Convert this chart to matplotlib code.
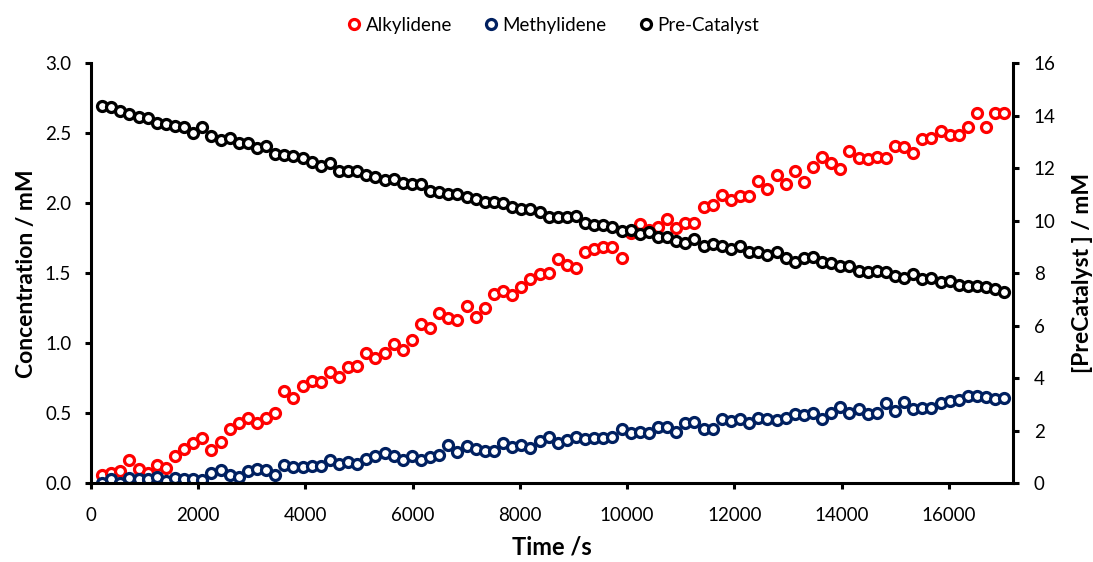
import matplotlib
matplotlib.use('Agg')
from matplotlib import pyplot as plt

plt.rcParams['font.family'] = ['Lato', 'DejaVu Sans']

# Sampling times (s)
time_s = [211, 381, 551, 721, 891, 1061, 1230, 1400, 1570, 1740,
          1910, 2080, 2250, 2420, 2590, 2760, 2929, 3099, 3269, 3439,
          3609, 3779, 3949, 4119, 4289, 4459, 4628, 4798, 4968, 5138,
          5308, 5478, 5648, 5818, 5988, 6158, 6327, 6497, 6667, 6837,
          7007, 7177, 7347, 7517, 7687, 7857, 8026, 8196, 8366, 8536,
          8706, 8876, 9046, 9216, 9386, 9556, 9725, 9895, 10065, 10235,
          10405, 10575, 10745, 10915, 11085, 11255, 11424, 11594, 11764, 11934,
          12104, 12274, 12444, 12614, 12784, 12954, 13123, 13293, 13463, 13633,
          13803, 13973, 14143, 14313, 14483, 14653, 14822, 14992, 15162, 15332,
          15502, 15672, 15842, 16012, 16182, 16352, 16521, 16691, 16861, 17031]

# Concentrations (mM), left axis
alkylidene = [0.059, 0.071, 0.088, 0.167, 0.100, 0.071, 0.131, 0.112, 0.197, 0.245,
              0.286, 0.321, 0.238, 0.293, 0.388, 0.433, 0.469, 0.433, 0.464, 0.500,
              0.659, 0.607, 0.695, 0.731, 0.726, 0.797, 0.757, 0.833, 0.838, 0.929,
              0.897, 0.929, 0.993, 0.952, 1.024, 1.136, 1.107, 1.214, 1.183, 1.167,
              1.269, 1.190, 1.254, 1.350, 1.374, 1.345, 1.400, 1.459, 1.493, 1.505,
              1.600, 1.560, 1.540, 1.650, 1.670, 1.686, 1.686, 1.610, 1.786, 1.850,
              1.810, 1.830, 1.886, 1.826, 1.857, 1.857, 1.970, 1.990, 2.059, 2.024,
              2.052, 2.052, 2.161, 2.100, 2.202, 2.138, 2.231, 2.154, 2.257, 2.333,
              2.290, 2.245, 2.376, 2.321, 2.317, 2.333, 2.321, 2.411, 2.400, 2.361,
              2.459, 2.464, 2.519, 2.488, 2.488, 2.543, 2.643, 2.547, 2.643, 2.648]

methylidene = [0.000, 0.029, 0.000, 0.040, 0.031, 0.031, 0.043, 0.019, 0.040, 0.031,
               0.031, 0.024, 0.071, 0.095, 0.059, 0.043, 0.088, 0.100, 0.095, 0.059,
               0.131, 0.114, 0.119, 0.124, 0.124, 0.167, 0.136, 0.155, 0.138, 0.171,
               0.197, 0.214, 0.197, 0.167, 0.195, 0.167, 0.190, 0.202, 0.274, 0.226,
               0.269, 0.245, 0.233, 0.233, 0.286, 0.257, 0.274, 0.252, 0.300, 0.330,
               0.288, 0.309, 0.333, 0.316, 0.326, 0.321, 0.333, 0.388, 0.357, 0.369,
               0.357, 0.400, 0.400, 0.369, 0.429, 0.440, 0.388, 0.388, 0.459, 0.445,
               0.459, 0.433, 0.469, 0.459, 0.452, 0.469, 0.493, 0.488, 0.500, 0.459,
               0.505, 0.543, 0.505, 0.529, 0.493, 0.505, 0.571, 0.517, 0.583, 0.529,
               0.536, 0.540, 0.571, 0.588, 0.595, 0.626, 0.624, 0.614, 0.602, 0.612]

# Pre-catalyst (mM), right axis
precatalyst = [14.38, 14.35, 14.19, 14.07, 13.94, 13.90, 13.74, 13.68, 13.62, 13.56,
               13.33, 13.59, 13.24, 13.08, 13.14, 12.95, 12.98, 12.78, 12.85, 12.54,
               12.51, 12.48, 12.38, 12.25, 12.09, 12.21, 11.90, 11.90, 11.90, 11.74,
               11.66, 11.55, 11.58, 11.45, 11.39, 11.39, 11.15, 11.11, 11.01, 11.01,
               10.92, 10.82, 10.73, 10.70, 10.67, 10.54, 10.45, 10.44, 10.35, 10.16,
               10.16, 10.16, 10.18, 9.93, 9.84, 9.84, 9.75, 9.62, 9.65, 9.49,
               9.58, 9.39, 9.37, 9.24, 9.17, 9.31, 9.05, 9.10, 9.04, 8.91,
               9.04, 8.82, 8.82, 8.70, 8.82, 8.57, 8.44, 8.59, 8.61, 8.42,
               8.38, 8.28, 8.28, 8.09, 8.06, 8.10, 8.04, 7.91, 7.81, 7.97,
               7.77, 7.81, 7.66, 7.72, 7.55, 7.52, 7.53, 7.47, 7.39, 7.30]

x_ticks = [0, 2000, 4000, 6000, 8000, 10000, 12000, 14000, 16000]
left_ticks = [0.0, 0.5, 1.0, 1.5, 2.0, 2.5, 3.0]
right_ticks = [0, 2, 4, 6, 8, 10, 12, 14, 16]

fig = plt.figure(figsize=(10.93, 5.62), dpi=100)
ax = fig.add_axes([0.083, 0.14, 0.8437, 0.7474])
ax2 = ax.twinx()

mk = dict(marker='o', linestyle='none', markerfacecolor='white',
          markersize=7.2, markeredgewidth=2.3)
h1, = ax.plot(time_s, alkylidene, markeredgecolor='#ff0000', label='Alkylidene', **mk)
h2, = ax.plot(time_s, methylidene, markeredgecolor='#002060', label='Methylidene', **mk)
h3, = ax2.plot(time_s, precatalyst, markeredgecolor='black', label='Pre-Catalyst', **mk)

ax.set_xlim(0, 17190)
ax.set_ylim(0, 3.0)
ax2.set_ylim(0, 16)
ax.set_xticks(x_ticks)
ax.set_yticks(left_ticks)
ax.set_yticklabels(['%.1f' % v for v in left_ticks])
ax2.set_yticks(right_ticks)

for a in (ax, ax2):
    a.spines['top'].set_visible(False)
    for s in ('left', 'right', 'bottom'):
        a.spines[s].set_linewidth(2.2)
    a.tick_params(width=2.2, length=4, labelsize=13.5, direction='out')
ax.tick_params(axis='x', pad=13)
ax.tick_params(axis='y', pad=10)
ax2.tick_params(axis='y', pad=11)
ax.spines['right'].set_visible(False)
ax2.spines['left'].set_visible(False)
ax2.spines['bottom'].set_visible(False)

ax.set_xlabel('Time /s', fontsize=17, fontweight='bold', labelpad=8)
ax.set_ylabel('Concentration / mM', fontsize=16.5, fontweight='bold', labelpad=6)
ax2.set_ylabel('[PreCatalyst ] / mM', fontsize=16.5, fontweight='bold', labelpad=12)

fig.legend(handles=[h1, h2, h3], loc='center', bbox_to_anchor=(0.505, 0.955),
           ncol=3, frameon=False, fontsize=13.5, handletextpad=0.1,
           columnspacing=1.6, handlelength=1.0)

fig.savefig('out.png', dpi=100)
